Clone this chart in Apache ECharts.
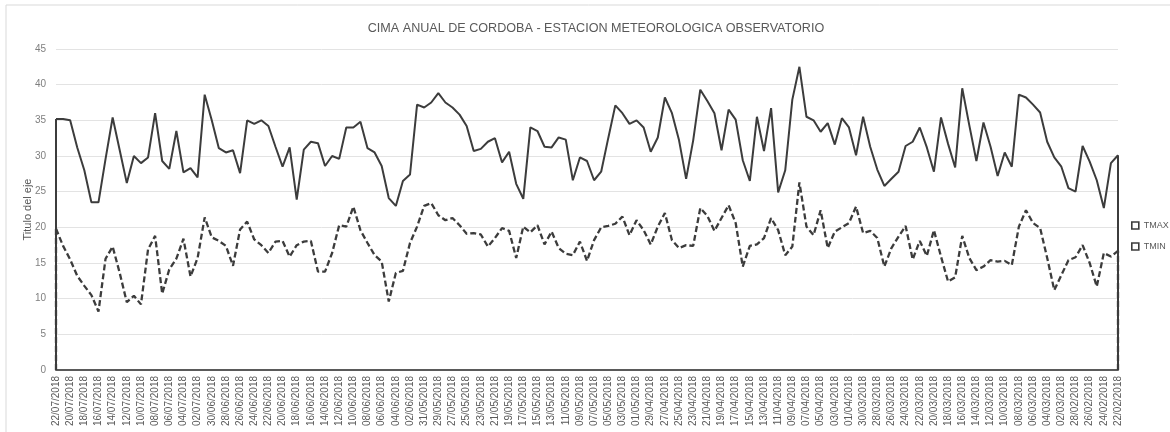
<!DOCTYPE html>
<html>
<head>
<meta charset="utf-8">
<script src="https://cdn.jsdelivr.net/npm/echarts@6/dist/echarts.min.js"></script>
<style>html,body{margin:0;padding:0;background:#fff}#c{width:1170px;height:432px}</style>
</head>
<body>
<div id="c"></div>
<script>
// Dates (descending, daily) from 22/07/2018 to 22/02/2018
const categories = [
'22/07/2018','21/07/2018','20/07/2018','19/07/2018','18/07/2018','17/07/2018','16/07/2018','15/07/2018','14/07/2018','13/07/2018',
'12/07/2018','11/07/2018','10/07/2018','09/07/2018','08/07/2018','07/07/2018','06/07/2018','05/07/2018','04/07/2018','03/07/2018',
'02/07/2018','01/07/2018','30/06/2018','29/06/2018','28/06/2018','27/06/2018','26/06/2018','25/06/2018','24/06/2018','23/06/2018',
'22/06/2018','21/06/2018','20/06/2018','19/06/2018','18/06/2018','17/06/2018','16/06/2018','15/06/2018','14/06/2018','13/06/2018',
'12/06/2018','11/06/2018','10/06/2018','09/06/2018','08/06/2018','07/06/2018','06/06/2018','05/06/2018','04/06/2018','03/06/2018',
'02/06/2018','01/06/2018','31/05/2018','30/05/2018','29/05/2018','28/05/2018','27/05/2018','26/05/2018','25/05/2018','24/05/2018',
'23/05/2018','22/05/2018','21/05/2018','20/05/2018','19/05/2018','18/05/2018','17/05/2018','16/05/2018','15/05/2018','14/05/2018',
'13/05/2018','12/05/2018','11/05/2018','10/05/2018','09/05/2018','08/05/2018','07/05/2018','06/05/2018','05/05/2018','04/05/2018',
'03/05/2018','02/05/2018','01/05/2018','30/04/2018','29/04/2018','28/04/2018','27/04/2018','26/04/2018','25/04/2018','24/04/2018',
'23/04/2018','22/04/2018','21/04/2018','20/04/2018','19/04/2018','18/04/2018','17/04/2018','16/04/2018','15/04/2018','14/04/2018',
'13/04/2018','12/04/2018','11/04/2018','10/04/2018','09/04/2018','08/04/2018','07/04/2018','06/04/2018','05/04/2018','04/04/2018',
'03/04/2018','02/04/2018','01/04/2018','31/03/2018','30/03/2018','29/03/2018','28/03/2018','27/03/2018','26/03/2018','25/03/2018',
'24/03/2018','23/03/2018','22/03/2018','21/03/2018','20/03/2018','19/03/2018','18/03/2018','17/03/2018','16/03/2018','15/03/2018',
'14/03/2018','13/03/2018','12/03/2018','11/03/2018','10/03/2018','09/03/2018','08/03/2018','07/03/2018','06/03/2018','05/03/2018',
'04/03/2018','03/03/2018','02/03/2018','01/03/2018','28/02/2018','27/02/2018','26/02/2018','25/02/2018','24/02/2018','23/02/2018',
'22/02/2018'
];

const tmax = [
35.2,35.2,35.0,31.2,28.0,23.5,23.5,29.6,35.4,30.8,
26.2,30.0,29.0,29.8,36.0,29.3,28.2,33.5,27.7,28.3,
27.0,38.6,35.0,31.1,30.5,30.8,27.6,35.0,34.5,35.0,
34.2,31.3,28.5,31.2,23.9,30.9,32.0,31.8,28.6,30.0,
29.6,34.0,34.0,34.8,31.1,30.5,28.6,24.1,23.0,26.5,
27.4,37.2,36.8,37.5,38.8,37.5,36.8,35.8,34.2,30.7,
31.0,32.0,32.5,29.1,30.6,26.1,24.0,34.0,33.5,31.3,
31.2,32.6,32.3,26.6,29.8,29.3,26.6,27.8,32.5,37.1,
36.0,34.5,35.0,34.0,30.6,32.6,38.2,36.0,32.2,26.8,
32.2,39.3,37.7,36.0,30.8,36.5,35.1,29.4,26.5,35.5,
30.7,36.7,24.9,28.0,37.9,42.5,35.5,35.0,33.4,34.6,
31.6,35.3,34.0,30.1,35.5,31.3,28.1,25.8,26.8,27.8,
31.4,32.0,34.0,31.2,27.8,35.4,31.7,28.4,39.5,34.3,
29.3,34.7,31.3,27.2,30.5,28.5,38.6,38.2,37.2,36.1,
32.0,29.8,28.5,25.5,25.0,31.4,29.2,26.6,22.7,29.0,
30.1
];

const tmin = [
19.8,17.4,15.5,13.2,11.8,10.5,8.2,15.6,17.3,13.6,
9.5,10.4,9.2,16.9,18.8,10.7,14.1,15.6,18.4,13.1,
15.7,21.4,18.6,18.1,17.4,14.6,19.7,20.8,18.3,17.5,
16.4,18.0,18.1,15.9,17.5,18.0,18.1,13.8,13.8,16.4,
20.3,20.1,22.9,19.6,17.8,16.1,15.2,9.6,13.6,13.9,
17.8,20.1,23.0,23.4,21.7,21.0,21.3,20.3,19.1,19.2,
19.0,17.3,18.5,19.9,19.5,15.7,20.1,19.3,20.3,17.6,
19.4,17.1,16.3,16.1,18.0,15.3,18.2,20.0,20.2,20.5,
21.5,18.9,21.0,19.6,17.6,20.1,22.0,18.2,17.1,17.5,
17.4,22.7,21.6,19.5,21.3,23.1,20.6,14.5,17.4,17.6,
18.5,21.3,19.6,16.1,17.3,26.3,20.1,18.9,22.4,17.1,
19.4,20.0,20.6,22.9,19.2,19.5,18.5,14.5,17.1,18.7,
20.2,15.5,18.1,16.0,19.6,15.9,12.4,13.0,18.8,15.7,
14.0,14.5,15.4,15.2,15.3,14.7,20.1,22.4,20.6,19.9,
15.7,11.2,13.3,15.4,15.8,17.5,15.0,11.7,16.4,15.9,
16.7
];

const yTicks = [0,5,10,15,20,25,30,35,40,45];

const title = 'CIMA ANUAL DE CORDOBA - ESTACION METEOROLOGICA OBSERVATORIO';
const yName = 'Titulo del eje';
const lineColor = '#3c3c3c';
const textColor = '#595959';
const font = 'Liberation Sans';

function edges(values, style) {
  const first = categories[0], last = categories[categories.length - 1];
  return {
    silent: true,
    symbol: 'none',
    label: {show: false},
    emphasis: {disabled: true},
    lineStyle: style,
    data: [
      [{coord: [first, 0]}, {coord: [first, values[0]]}],
      [{coord: [last, 0]}, {coord: [last, values[values.length - 1]]}]
    ]
  };
}

const maxStyle = {color: lineColor, width: 2, type: 'solid'};
const minStyle = {color: lineColor, width: 2.3, type: [6, 3]};

const chart = echarts.init(document.getElementById('c'), null, {renderer: 'canvas'});
chart.setOption({
  backgroundColor: '#ffffff',
  animation: false,
  textStyle: {fontFamily: font},
  graphic: [{
    type: 'rect', silent: true, z: -1,
    shape: {x: 6, y: 5, width: 1200, height: 460},
    style: {fill: 'none', stroke: '#d9d9d9', lineWidth: 1}
  }],
  title: {
    text: title, left: 591, top: 17, textAlign: 'center',
    textStyle: {fontFamily: font, fontSize: 12.6, fontWeight: 'normal', color: textColor}
  },
  legend: {
    orient: 'vertical', left: 1131, top: 221, itemGap: 12,
    itemWidth: 7, itemHeight: 7, icon: 'rect', padding: 0,
    textStyle: {fontFamily: font, fontSize: 9, color: textColor},
    lineStyle: {opacity: 0},
    itemStyle: {color: 'rgba(0,0,0,0)', borderColor: lineColor, borderWidth: 1.6},
    data: ['TMAX', 'TMIN']
  },
  grid: {left: 56, right: 52, top: 49, bottom: 62, containLabel: false},
  xAxis: {
    type: 'category', data: categories, boundaryGap: false,
    axisLine: {show: true, lineStyle: {color: '#5a5a5a', width: 2}},
    axisTick: {show: false},
    axisLabel: {interval: 1, rotate: 90, fontSize: 10, color: textColor, fontFamily: font, margin: 6}
  },
  yAxis: {
    type: 'value', min: yTicks[0], max: yTicks[yTicks.length - 1], interval: 5,
    name: yName, nameLocation: 'middle', nameGap: 23, nameRotate: 90,
    nameMoveOverlap: false,
    nameTextStyle: {fontSize: 11, color: textColor, fontFamily: font},
    axisLine: {show: false}, axisTick: {show: false},
    axisLabel: {fontSize: 10, color: '#7f7f7f', fontFamily: font, margin: 10},
    splitLine: {lineStyle: {color: '#e3e3e3', width: 1}}
  },
  series: [
    {name: 'TMAX', type: 'line', data: tmax, showSymbol: false, symbol: 'rect',
     lineStyle: maxStyle, itemStyle: {color: lineColor}, markLine: edges(tmax, maxStyle)},
    {name: 'TMIN', type: 'line', data: tmin, showSymbol: false, symbol: 'rect',
     lineStyle: minStyle, itemStyle: {color: lineColor}, markLine: edges(tmin, minStyle)}
  ]
});
</script>
</body>
</html>
